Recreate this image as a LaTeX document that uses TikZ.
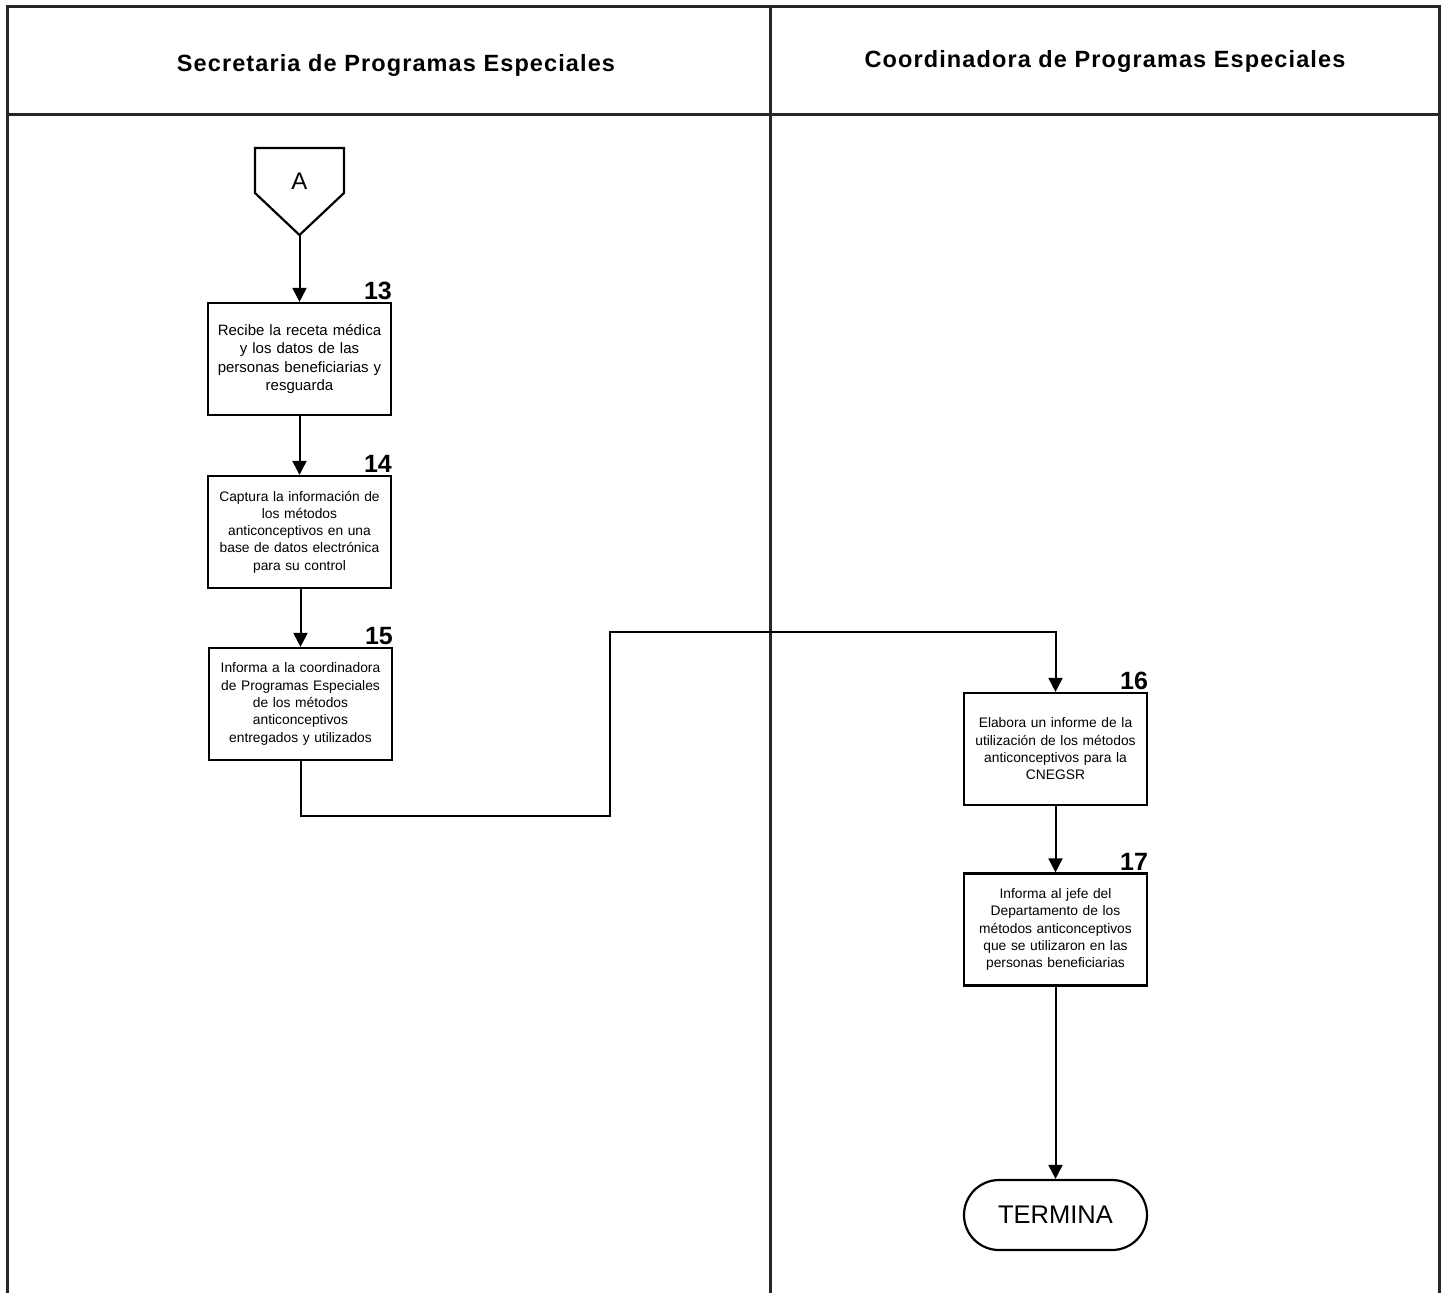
\documentclass[tikz,border=0pt]{standalone}
\usepackage{fontspec}
\setmainfont{Liberation Sans}
\usetikzlibrary{arrows.meta}
\tikzset{
  frame/.style={line width=3pt, black!85},
  box/.style={draw, line width=2.2pt, minimum width=183pt, minimum height=112pt, inner sep=0pt, text width=176pt, align=center, font=\fontsize{13.8}{17.3}\selectfont},
  num/.style={font=\bfseries\fontsize{25}{25}\selectfont, inner sep=0pt, anchor=south east},
  conn/.style={line width=2pt, -{Triangle[width=14pt,length=14pt]}},
  head/.style={font=\bfseries\fontsize{23.5}{26}\selectfont\addfontfeatures{LetterSpace=4.7}},
  term/.style={draw, line width=2.2pt, rounded corners=35pt, minimum width=183pt, minimum height=70pt, inner sep=0pt, font=\fontsize{25.5}{25.5}\selectfont}
}
\begin{document}
\begin{tikzpicture}[x=1pt,y=-1pt]
\useasboundingbox (0,0) rectangle (1444,1293);
% frame
\draw[frame] (7,1293) -- (7,6) -- (1439,6) -- (1439,1293);
\draw[frame] (7,114) -- (1439,114);
\draw[frame] (770,6) -- (770,1293);
\node[head] (h1) at (396,65) {Secretaria de Programas Especiales};
\node[head] (h2) at (1105,61) {Coordinadora de Programas Especiales};
% off-page connector
\draw[line width=2.2pt] (255,148) -- (344,148) -- (344,193) -- (299.5,235) -- (255,193) -- cycle;
\node[font=\fontsize{24}{24}\selectfont] (A) at (299.5,181) {A};
\coordinate (Ap) at (299.5,235);
% boxes
\node[box, font=\fontsize{15}{18.5}\selectfont] (b13) at (299.5,359) {Recibe la receta médica\\y los datos de las\\personas beneficiarias y\\resguarda};
\node[num] (n13) at ([yshift=2pt]b13.north east) {13};
\node[box] (b14) at (299.5,532) {Captura la información de\\los métodos\\anticonceptivos en una\\base de datos electrónica\\para su control};
\node[num] (n14) at ([yshift=2pt]b14.north east) {14};
\node[box] (b15) at (300.5,704) {Informa a la coordinadora\\de Programas Especiales\\de los métodos\\anticonceptivos\\entregados y utilizados};
\node[num] (n15) at ([yshift=2pt]b15.north east) {15};
\node[box] (b16) at (1055.5,749) {Elabora un informe de la\\utilización de los métodos\\anticonceptivos para la\\CNEGSR};
\node[num] (n16) at ([yshift=2pt]b16.north east) {16};
\node[box] (b17) at (1055.5,929.5) {Informa al jefe del\\Departamento de los\\métodos anticonceptivos\\que se utilizaron en las\\personas beneficiarias};
\node[num] (n17) at ([yshift=2pt]b17.north east) {17};
\node[term] (t) at (1055.5,1215) {TERMINA};
% connectors
\coordinate (j1) at (610,816);
\coordinate (j2) at (610,632);
\draw[conn] (Ap) -- (b13.north);
\draw[conn] (b13.south) -- (b14.north);
\draw[conn] (b14.south -| b15.north) -- (b15.north);
\draw[conn] (b15.south) |- (j1) -- (j2) -| (b16.north);
\draw[conn] (b16.south) -- (b17.north);
\draw[conn] (b17.south) -- (t.north);
\end{tikzpicture}
\end{document}
